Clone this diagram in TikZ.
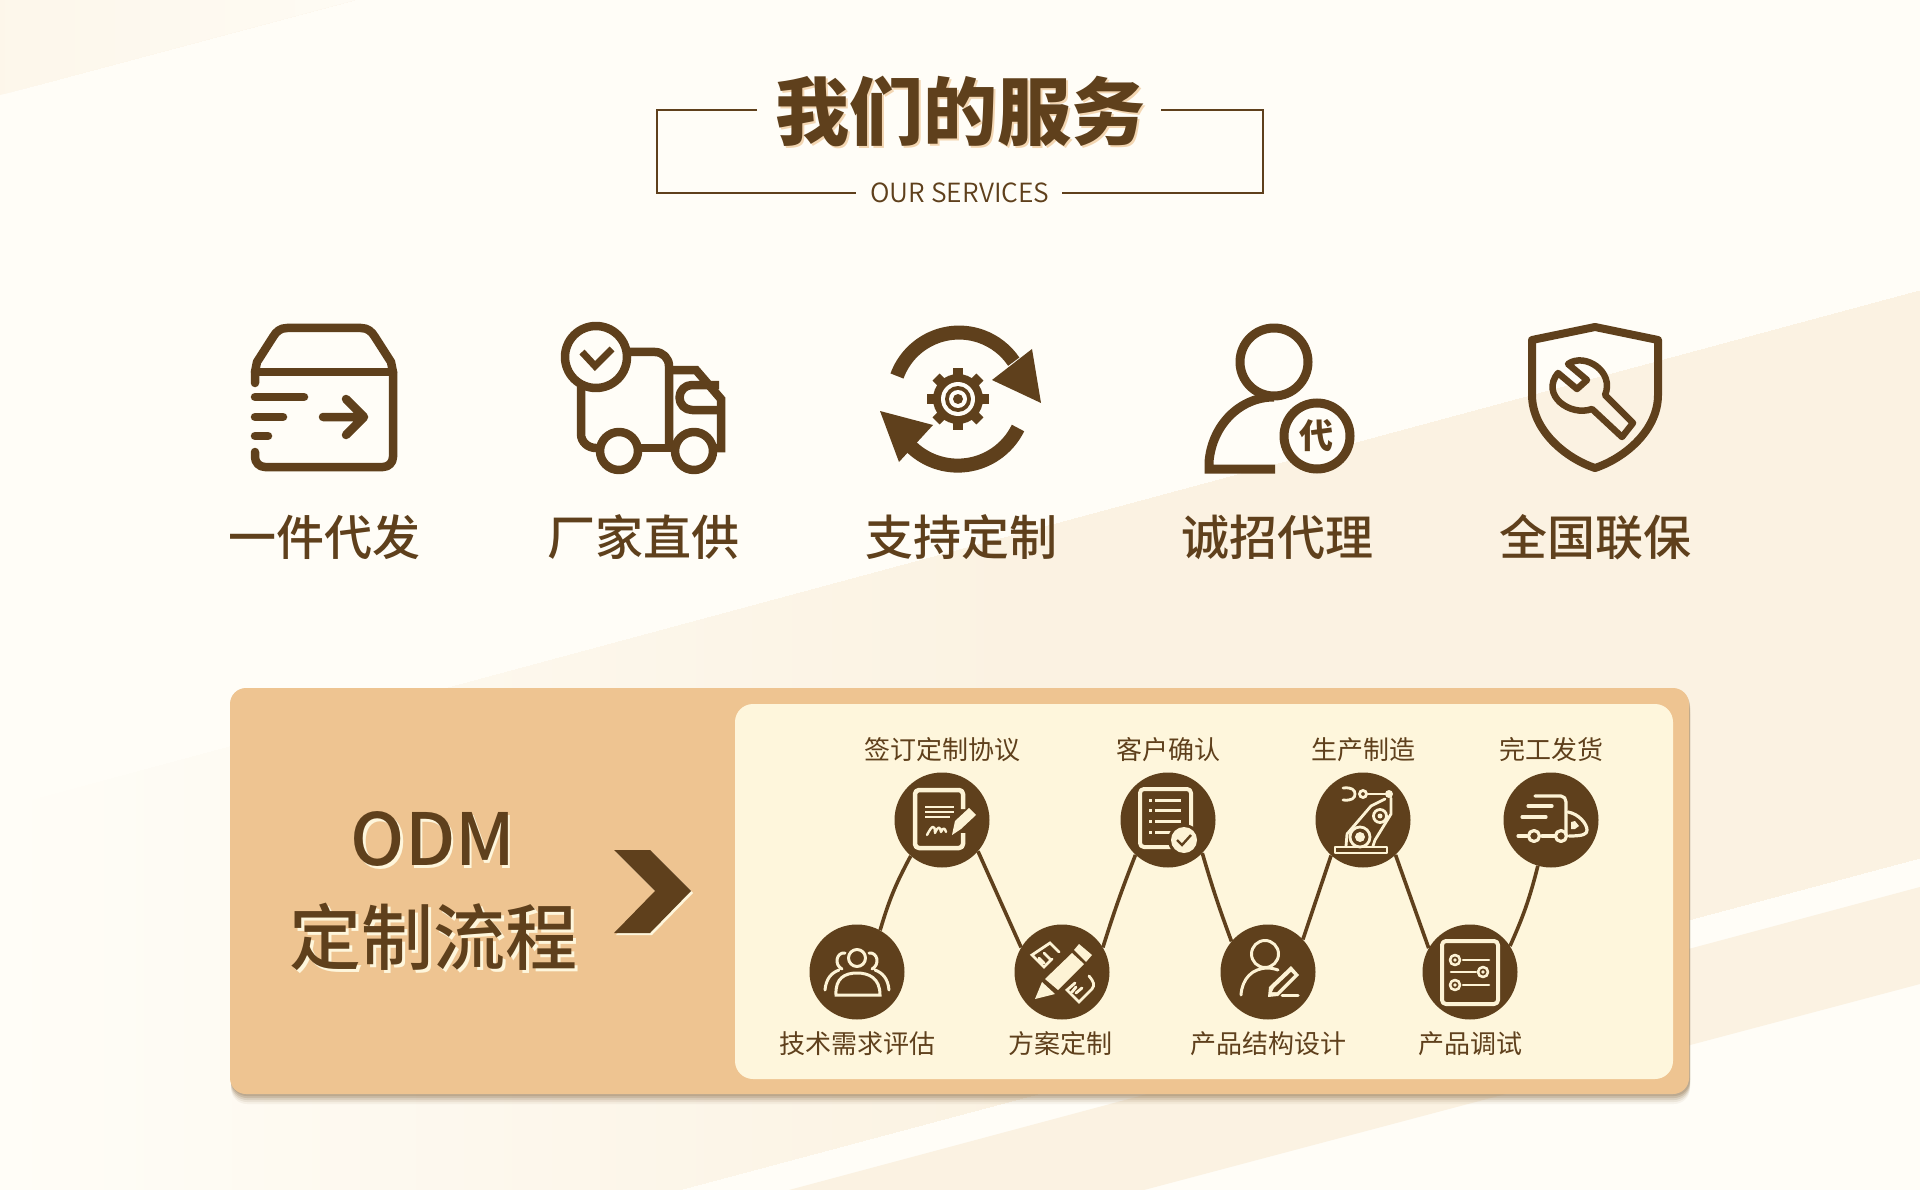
\documentclass[tikz,border=0pt]{standalone}
\usepackage{fontspec}
\setmainfont{Noto Sans CJK SC}
\newfontfamily\lightf{Noto Sans CJK SC DemiLight}
\newfontfamily\medf{Noto Sans CJK SC Medium}
\newfontfamily\blackf{Noto Sans CJK SC Black}
\definecolor{brn}{HTML}{5F401C}
\definecolor{bgc}{HTML}{FFFDF7}
\definecolor{band}{HTML}{FBF2E2}
\definecolor{card}{HTML}{EEC491}
\definecolor{panel}{HTML}{FEF6DC}
\definecolor{lite}{HTML}{FDF3D5}
\tikzset{
  ic/.style={draw=brn,line width=8.5pt,line cap=round,line join=round,fill=none},
  si/.style={draw=lite,line width=3pt,line cap=round,line join=round,fill=none},
  sf/.style={fill=lite,draw=none},
  dot/.style={circle,fill=brn,minimum size=95pt,inner sep=0pt,draw=none},
  conn/.style={draw=brn,line width=3.6pt},
  lab/.style={text=brn,inner sep=0pt,font=\fontsize{26}{26}\selectfont},
  biglab/.style={text=brn,inner sep=0pt,font=\medf\fontsize{48}{48}\selectfont},
  frameline/.style={draw=brn,line width=2pt},
}
\begin{document}
\begin{tikzpicture}[x=1pt,y=1pt,yscale=-1]
\useasboundingbox (0,0) rectangle (1920,1190);
% background
\fill[bgc] (0,0) rectangle (1920,1190);
\foreach \s in {0,5,...,355}{
  \pgfmathsetmacro{\p}{int(60-0.127*\s)}
  \pgfmathsetmacro{\yy}{95*(1-\s/355)}
  \fill[band!\p!bgc] (\s,0) -- (355,0) -- (\s,\yy) -- cycle;
}
\foreach \s in {0,8,...,672}{
  \pgfmathsetmacro{\p}{int(\s/10)}
  \pgfmathsetmacro{\yy}{809-0.2698*\s}
  \fill[band!\p!bgc] (\s,\yy) -- (1920,291) -- (1920,858) -- (679,1190) -- (\s,1190) -- cycle;
}
\foreach \s in {680,688,...,1000}{
  \pgfmathsetmacro{\p}{int(\s/10)}
  \pgfmathsetmacro{\yy}{809-0.2698*\s}
  \pgfmathsetmacro{\yb}{1190-0.2675*(\s-679)}
  \fill[band!\p!bgc] (\s,\yy) -- (1920,291) -- (1920,858) -- (\s,\yb) -- cycle;
}
\fill[band] (789,1190) -- (1920,887) -- (1920,984) -- (1144,1190) -- cycle;
% title frame
\node[inner sep=0pt,text=card!70!white,font=\blackf\fontsize{74}{74}\selectfont] (titleS) at (962,113) {我们的服务};
\node[inner sep=0pt,text=brn,font=\blackf\fontsize{74}{74}\selectfont] (title) at (960,111) {我们的服务};
\node[inner sep=0pt,text=brn,font=\lightf\fontsize{26.4}{27}\selectfont] (sub) at (960,193) {OUR SERVICES};
\draw[frameline] (757,110) -- (657,110) -- (657,193) -- (856,193);
\draw[frameline] (1161,110) -- (1263,110) -- (1263,193) -- (1062,193);
% icon 1: box
\draw[ic] (255,383) -- (255,372) -- (257,362) -- (273,337) to[out=-60,in=180] (287,328) -- (361,328) to[out=0,in=-120] (375,337) -- (391,362) -- (393,372) -- (393,457) to[out=90,in=0] (383,467) -- (265,467) to[out=180,in=90] (255,457) -- (255,452);
\draw[ic] (255,372) -- (393,372);
\draw[ic] (255,397) -- (304,397) (255,417) -- (283,417) (255,436) -- (268,436);
\draw[ic] (323,417) -- (364,417) (346,399) -- (364,417) -- (346,435);
% icon 2: truck
\draw[ic,line cap=butt] (596,357) circle (31pt);
\draw[ic,line width=7pt,line cap=butt,line join=miter] (582,352) -- (595,366) -- (612,349);
\draw[ic,line cap=butt] (581,387) -- (581,434) to[out=90,in=180] (596,448) -- (600,448);
\draw[ic,line cap=butt] (638,448) -- (675,448);
\draw[ic,line cap=butt] (627,352) -- (655,352) to[out=0,in=-90] (669,366) -- (669,448);
\draw[ic,line cap=butt,line join=miter] (669,370) -- (696,370) -- (721,399) -- (721,448) -- (713,448);
\draw[ic,line cap=butt] (719,385) -- (692,385) arc[start angle=270,end angle=90,radius=12.5pt] -- (719,410);
\draw[ic,line cap=butt] (619,451) circle (19pt);
\draw[ic,line cap=butt] (694,451) circle (19pt);
% icon 3: cycle with gear
\draw[draw=brn,line width=14pt] (897,376) arc[start angle=200,end angle=326,radius=66pt];
\fill[brn] (1032,349) -- (1041,403) -- (992,380) -- cycle;
\draw[draw=brn,line width=14pt] (1018,428) arc[start angle=26,end angle=140,radius=67pt];
\fill[brn] (880,411) -- (899,462) -- (933,425) -- cycle;
\fill[brn] (958,399) circle (25pt);
\foreach \a in {0,45,...,315}{\fill[brn,rotate around={\a:(958,399)}] (953,368) rectangle (963,385);}
\fill[bgc] (958,399) circle (17pt);
\fill[brn] (958,399) circle (13pt);
\fill[bgc] (958,399) circle (9pt);
\fill[brn] (958,399) circle (5pt);
% icon 4: person
\draw[ic,line width=9pt,line cap=butt] (1274,362) circle (34pt);
\draw[ic,line width=9pt,line cap=butt,line join=miter] (1275,469) -- (1209,469) -- (1209,462) .. controls (1212,425) and (1240,397) .. (1274,397);
\draw[draw=brn,line width=9pt,fill=bgc] (1317,436) circle (33pt);
\node[inner sep=0pt,text=brn,font=\bfseries\fontsize{34}{34}\selectfont] (dai) at (1316,436) {代};
% icon 5: shield
\draw[ic,line width=8pt] (1595,327) -- (1532,340) -- (1532,395) .. controls (1532,430) and (1565,458) .. (1595,468) .. controls (1625,458) and (1658,430) .. (1658,395) -- (1658,340) -- cycle;
\draw[ic,line width=6.5pt] (1568,364) .. controls (1585,352) and (1615,372) .. (1605,395) -- (1633,423) -- (1622,437) -- (1592,409) .. controls (1570,417) and (1540,395) .. (1558,373) -- (1577,389) -- (1587,380) -- cycle;
% big labels
\node[biglab] (l1) at (324,537) {一件代发};
\node[biglab] (l2) at (643,537) {厂家直供};
\node[biglab] (l3) at (961,537) {支持定制};
\node[biglab] (l4) at (1277,537) {诚招代理};
\node[biglab] (l5) at (1595,537) {全国联保};
% card
\foreach \o/\c in {10/08,8/12,6/18,4/25,2/30}{\fill[black!35!card,opacity=.\c,rounded corners=16pt] (231,688+\o) rectangle (1690,1094+\o);}
\fill[card,rounded corners=16pt] (230,688) rectangle (1689,1094);
\fill[panel,rounded corners=18pt] (735,704) rectangle (1673,1079);
% ODM
\node[inner sep=0pt,text=panel,font=\medf\fontsize{72}{72}\selectfont] (odmS) at (435.5,841.5) {ODM};
\node[inner sep=0pt,text=brn,font=\medf\fontsize{72}{72}\selectfont] (odm) at (433,839) {ODM};
\node[inner sep=0pt,text=panel,font=\medf\fontsize{72}{72}\selectfont] (dzS) at (436,940) {定制流程};
\node[inner sep=0pt,text=brn,font=\medf\fontsize{72}{72}\selectfont] (dz) at (433,937) {定制流程};
% chevron
\fill[panel] (616,852) -- (652,852) -- (693,893) -- (652,935) -- (616,935) -- (657,893) -- cycle;
\fill[brn] (614,850) -- (650,850) -- (691,891) -- (650,933) -- (614,933) -- (655,891) -- cycle;
% process circles
\node[dot] (b1) at (857,972) {};
\node[dot] (t1) at (942,820) {};
\node[dot] (b2) at (1062,972) {};
\node[dot] (t2) at (1168,820) {};
\node[dot] (b3) at (1268,972) {};
\node[dot] (t3) at (1363,820) {};
\node[dot] (b4) at (1470,972) {};
\node[dot] (t4) at (1551,820) {};
% connectors
\draw[conn] (b1.61) to[bend right=6] (t1.229);
\draw[conn] (t1.-41) -- (b2.149);
\draw[conn] (b2.31) to[bend right=2] (t2.227);
\draw[conn] (t2.-44) to[bend left=2] (b3.140);
\draw[conn] (b3.43) -- (t3.228);
\draw[conn] (t3.-47) -- (b4.150);
\draw[conn] (b4.33) to[bend left=5] (t4.254);
% process labels
\node[lab] (lt1) at (942,750) {签订定制协议};
\node[lab] (lt2) at (1168,750) {客户确认};
\node[lab] (lt3) at (1363,750) {生产制造};
\node[lab] (lt4) at (1551,750) {完工发货};
\node[lab] (lb1) at (857,1044) {技术需求评估};
\node[lab] (lb2) at (1060,1044) {方案定制};
\node[lab] (lb3) at (1268,1044) {产品结构设计};
\node[lab] (lb4) at (1470,1044) {产品调试};
% t1 doc + pen
\begin{scope}[shift={(t1.center)}]
\draw[si,line width=4.5pt,line cap=butt,rounded corners=4pt] (21,-11) -- (21,-30) -- (-27,-30) -- (-27,28) -- (21,28) -- (21,13);
\draw[si,line width=2.2pt,line cap=butt] (-17,-13) -- (12,-13) (-17,-8) -- (12,-8) (-17,-3) -- (8,-3);
\draw[si,line width=2.4pt] (-15,15) .. controls (-10,5) and (-7,4) .. (-7,13) .. controls (-4,6) and (-2,6) .. (-1,12) .. controls (1,7) and (3,8) .. (4,12);
\fill[sf] (10,15) -- (13,1) -- (27,-12) -- (34,-5) -- (19,9) -- cycle;
\end{scope}
% t2 list + check
\begin{scope}[shift={(t2.center)}]
\draw[si,line width=4pt,rounded corners=4pt] (-28,-31) rectangle (23,27);
\draw[si,line width=3pt,line cap=butt] (-13,-20) -- (13,-20) (-13,-10) -- (13,-10) (-13,1) -- (13,1) (-13,12) -- (8,12) (-19,-20) -- (-16,-20) (-19,-10) -- (-16,-10) (-19,1) -- (-16,1) (-19,12) -- (-16,12);
\fill[brn] (16,20) circle (16pt);
\fill[lite] (16,20) circle (13pt);
\draw[draw=brn,line width=2.4pt] (9,20) -- (14,25) -- (23,15);
\end{scope}
% t3 robot
\begin{scope}[shift={(t3.center)}]
\draw[si,line width=2.8pt] (-28,27) rectangle (24,33);
\draw[si,line width=2.8pt] (-3,17) circle (10pt);
\fill[sf] (-3,17) circle (5pt);
\draw[si,line width=2.8pt] (17,-4) circle (6.5pt);
\fill[sf] (17,-4) circle (2.5pt);
\draw[si,line width=2.8pt] (-16,14) -- (8,-14) -- (22,-21) (12,20) -- (28,-6) -- (28,-22) (-17,26) -- (-16,14) (10,26) -- (12,20);
\fill[sf] (26,-26) circle (4pt);
\draw[si,line width=2.8pt] (0,-26) circle (3.5pt);
\draw[si,line width=2.8pt] (5,-26) -- (22,-26);
\draw[si,line width=2.8pt] (-20,-32) .. controls (-11,-33) and (-8,-30) .. (-8,-26) .. controls (-8,-22) and (-11,-19) .. (-20,-20);
\end{scope}
% t4 truck
\begin{scope}[shift={(t4.center)}]
\draw[si,line width=3.2pt] (-16,-24) -- (10,-24) to[out=0,in=-90] (15,-18) -- (15,15);
\draw[si,line width=3.2pt] (-23,-14) -- (1,-14) (-29,-3) -- (-5,-3);
\draw[si,line width=3.2pt] (-33,16) -- (-24,16) (-9,16) -- (4,16);
\draw[si,line width=3.2pt] (-17,16) circle (5.5pt);
\draw[si,line width=3.2pt] (10,16) circle (5.5pt);
\draw[si,line width=3.2pt] (17,-8) .. controls (28,-6) and (36,4) .. (36,10) .. controls (36,14) and (33,16) .. (18,16);
\fill[sf] (20,2) -- (24,1) -- (28,6) -- (24,9) -- (20,9) -- cycle;
\end{scope}
% b1 people
\begin{scope}[shift={(b1.center)}]
\draw[si] (0,-14) circle (8.5pt);
\draw[si,line join=miter] (-21,23) .. controls (-22,6) and (-12,1) .. (0,1) .. controls (12,1) and (23,6) .. (23,23) -- cycle;
\draw[si] (-12,-19) .. controls (-21,-20) and (-23,-7) .. (-15,-3);
\draw[si] (12,-19) .. controls (21,-20) and (23,-7) .. (15,-3);
\draw[si] (-32,18) .. controls (-31,7) and (-26,1) .. (-18,-2);
\draw[si] (32,18) .. controls (31,7) and (26,1) .. (18,-2);
\end{scope}
% b2 pencil + ruler
\begin{scope}[shift={(b2.center)}]
\fill[sf] (-27,27) -- (-20,10) -- (-7,22) -- cycle;
\fill[sf] (-17,7) -- (10,-19) -- (22,-8) -- (-4,18) -- cycle;
\fill[sf] (12,-22) -- (17,-28) -- (30,-17) -- (24,-10) -- cycle;
\draw[si,line width=2.8pt,line join=miter] (-3,-20) -- (-12,-29) -- (-30,-17) -- (-18,-5) -- (-10,-13) (-18,-19) -- (-12,-13) (-23,-14) -- (-18,-9);
\draw[si,line width=2.8pt,line join=miter] (27,4) .. controls (32,10) and (33,13) .. (30,17) -- (17,30) -- (5,18) -- (13,11) (14,21) -- (20,16) (10,20) -- (14,15);
\end{scope}
% b3 person + pen
\begin{scope}[shift={(b3.center)}]
\draw[si] (-3,-18) circle (13.5pt);
\draw[si] (-27,23) .. controls (-26,7) and (-16,-4) .. (0,-4) .. controls (3,-4) and (7,-3) .. (10,-2);
\fill[sf] (0,25) -- (1,15) -- (23,-6) -- (31,3) -- (10,24) -- cycle;
\fill[brn] (4,20) -- (6,16) -- (23,0) -- (26,3) -- (9,20) -- cycle;
\draw[si] (14,23) -- (30,23);
\end{scope}
% b4 sliders
\begin{scope}[shift={(b4.center)}]
\draw[si,line width=4pt,rounded corners=4pt] (-28,-31) rectangle (28,32);
\draw[si,line width=2.6pt] (-15,-12) circle (5pt) (13,0) circle (5pt) (-15,13) circle (5pt);
\fill[sf] (-15,-12) circle (1.8pt) (13,0) circle (1.8pt) (-15,13) circle (1.8pt);
\draw[si,line width=2.6pt] (-7,-12) -- (19,-12) (-19,0) -- (6,0) (-7,13) -- (19,13);
\end{scope}
\end{tikzpicture}
\end{document}
